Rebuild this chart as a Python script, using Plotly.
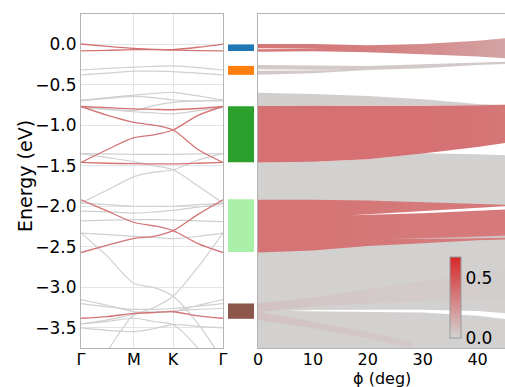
import plotly.graph_objects as go
from plotly.colors import sample_colorscale

# ---------------- left panel: band structure ----------------
K_TICKS = [0.0, 0.373, 0.648, 1.0]
K_LABELS = ["Γ", "M", "K", "Γ"]
K_PTS = [0.0, 0.187, 0.373, 0.511, 0.648, 0.824, 1.0]

RED_BANDS = [
    [0.0, -0.03, -0.055, -0.065, -0.068, -0.04, 0.0],
    [-0.085, -0.078, -0.068, -0.07, -0.075, -0.082, -0.085],
    [-0.77, -0.785, -0.80, -0.805, -0.81, -0.795, -0.77],
    [-0.77, -0.88, -0.965, -1.0, -1.06, -1.30, -1.46],
    [-1.46, -1.30, -1.155, -1.12, -1.06, -0.88, -0.77],
    [-1.46, -1.47, -1.475, -1.478, -1.478, -1.47, -1.46],
    [-1.92, -2.06, -2.20, -2.24, -2.30, -2.46, -2.57],
    [-2.57, -2.48, -2.395, -2.37, -2.30, -2.10, -1.92],
    [-3.38, -3.36, -3.32, -3.31, -3.30, -3.35, -3.38],
]

GRAY_BANDS = [
    [-0.32, -0.30, -0.285, -0.275, -0.27, -0.29, -0.32],
    [-0.38, -0.36, -0.335, -0.335, -0.34, -0.36, -0.38],
    [-0.69, -0.66, -0.63, -0.61, -0.595, -0.64, -0.69],
    [-0.70, -0.67, -0.645, -0.66, -0.69, -0.70, -0.70],
    [-0.78, -0.80, -0.82, -0.76, -0.72, -0.70, -0.69],
    [-0.78, -0.81, -0.835, -0.85, -0.86, -0.82, -0.78],
    [-1.35, -1.355, -1.36, -1.36, -1.36, -1.355, -1.35],
    [-1.35, -1.40, -1.45, -1.50, -1.55, -1.75, -1.96],
    [-1.96, -1.80, -1.635, -1.58, -1.55, -1.43, -1.35],
    [-1.96, -1.98, -2.0, -2.0, -2.0, -1.98, -1.96],
    [-2.06, -2.07, -2.085, -2.07, -2.05, -2.01, -1.97],
    [-2.18, -2.17, -2.165, -2.165, -2.17, -2.18, -2.19],
    [-2.33, -2.35, -2.37, -2.385, -2.40, -2.37, -2.33],
    [-2.33, -2.62, -2.95, -3.00, -3.11, -3.45, -3.90],
    [-3.45, -3.40, -3.33, -3.25, -3.11, -2.75, -2.33],
    [-3.15, -3.22, -3.30, -3.30, -3.30, -3.22, -3.15],
    [-3.20, -3.24, -3.27, -3.27, -3.26, -3.23, -3.20],
    [-3.50, -3.53, -3.545, -3.51, -3.46, -3.48, -3.50],
    [-4.20, -3.78, -3.34, -3.31, -3.29, -3.27, -3.26],
    [-3.45, -3.42, -3.38, -3.42, -3.46, -3.75, -4.20],
]

Y_TICKS = [0.0, -0.5, -1.0, -1.5, -2.0, -2.5, -3.0, -3.5]
Y_LABELS = ["0.0", "−0.5", "−1.0", "−1.5", "−2.0", "−2.5", "−3.0", "−3.5"]

# ---------------- middle panel: energy windows ----------------
WIN_TOP = [-0.005, -0.27, -0.767, -1.913, -3.198]
WIN_BOTTOM = [-0.086, -0.38, -1.457, -2.565, -3.387]
WIN_COLORS = ["#1f77b4", "#ff7f0e", "#2ca02c", "#aaf0a8", "#8c564b"]

# ---------------- right panel: twist-angle spectrum ----------------
PHI = [0, 10, 20, 30, 40, 45]
PHI_TICKS = [0, 10, 20, 30, 40]

A_UP = [0.0, 0.0, -0.015, 0.0, 0.04, 0.07]
A_LO = [-0.095, -0.09, -0.10, -0.125, -0.155, -0.175]
A_W = [0.36, 0.35, 0.33, 0.28, 0.22, 0.18]

B_UP = [-0.26, -0.265, -0.27, -0.25, -0.23, -0.22]
B_LO = [-0.38, -0.36, -0.32, -0.30, -0.26, -0.245]
B_W = [0.04, 0.04, 0.04, 0.04, 0.04, 0.04]

C_UP = [-0.60, -0.615, -0.64, -0.68, -0.74, -0.755]
C_LO = [-0.765, -0.765, -0.765, -0.76, -0.755, -0.75]
C_W = [0.02, 0.02, 0.02, 0.02, 0.02, 0.02]

E_UP = [-1.46, -1.45, -1.42, -1.345, -1.36, -1.37]
E_LO = [-3.80, -3.80, -3.80, -3.80, -3.80, -3.80]
E_W = [0.01, 0.01, 0.01, 0.01, 0.01, 0.01]

D_UP = [-0.765, -0.765, -0.765, -0.76, -0.755, -0.75]
D_LO = [-1.46, -1.45, -1.42, -1.35, -1.27, -1.22]
D_W = [0.38, 0.38, 0.38, 0.38, 0.37, 0.36]

F_UP = [-1.92, -1.92, -1.93, -1.95, -1.97, -1.98]
F_LO = [-2.57, -2.545, -2.49, -2.455, -2.42, -2.41]
F_W = [0.37, 0.37, 0.36, 0.35, 0.35, 0.35]

P1_PHI = [0, 10, 20, 30, 45]
P1_UP = [-3.20, -3.12, -3.02, -2.92, -2.78]
P1_LO = [-3.30, -3.24, -3.20, -3.17, -3.14]
P1_W = [0.07, 0.05, 0.04, 0.03, 0.02]

P2_PHI = [0, 10, 20, 28]
P2_UP = [-3.30, -3.42, -3.55, -3.66]
P2_LO = [-3.40, -3.50, -3.63, -3.75]
P2_W = [0.07, 0.06, 0.05, 0.04]

# gaps (white) and thin streaks inside bands
WA_PHI = [0, 6, 12]
WA_UP = [-0.052, -0.054, -0.058]
WA_LO = [-0.064, -0.062, -0.058]

WB_PHI = [0, 8, 16]
WB_UP = [-0.312, -0.315, -0.32]
WB_LO = [-0.33, -0.327, -0.32]

W2_PHI = [17, 30, 40, 45]
W2_UP = [-2.11, -2.06, -2.02, -2.0]
W2_LO = [-2.11, -2.085, -2.055, -2.04]

G2_PHI = [24, 35, 45]
G2_UP = [-2.40, -2.385, -2.36]
G2_LO = [-2.40, -2.40, -2.39]
G2_W = [0.08, 0.08, 0.08]

W3_PHI = [5, 10, 20, 30, 40, 45]
W3_UP = [-3.29, -3.28, -3.275, -3.275, -3.29, -3.32]
W3_LO = [-3.29, -3.30, -3.305, -3.31, -3.35, -3.39]

W_MAX = 0.67
CB_TICKS = [0.0, 0.5]
CSCALE = [[0.0, "#d3d3d3"], [1.0, "#d62728"]]

E_RANGE = [-3.747, 0.37]
PHI_RANGE = [0, 45]


def wcolor(w):
    return sample_colorscale(CSCALE, [min(max(w / W_MAX, 0), 1)])[0]


fig = go.Figure()

# left panel lines
for band in GRAY_BANDS:
    fig.add_trace(go.Scatter(x=K_PTS, y=band, mode="lines",
                             line=dict(color="#d0d0d0", width=1.2, shape="spline", smoothing=0.8),
                             xaxis="x", yaxis="y", hoverinfo="skip"))
for band in RED_BANDS:
    fig.add_trace(go.Scatter(x=K_PTS, y=band, mode="lines",
                             line=dict(color="#d37474", width=1.3, shape="spline", smoothing=0.8),
                             xaxis="x", yaxis="y", hoverinfo="skip"))

# middle panel windows
for top, bot, col in zip(WIN_TOP, WIN_BOTTOM, WIN_COLORS):
    fig.add_trace(go.Bar(x=[0.5], y=[top - bot], base=[bot], width=[1.0],
                         marker=dict(color=col, line=dict(width=0)),
                         xaxis="x2", yaxis="y2", hoverinfo="skip"))


def band_poly(phi, up, lo, weights=None, color=None):
    xs = list(phi) + list(phi)[::-1] + [phi[0]]
    ys = list(up) + list(lo)[::-1] + [up[0]]
    kw = dict(x=xs, y=ys, mode="lines", fill="toself", xaxis="x3", yaxis="y3",
              hoverinfo="skip")
    if weights is not None:
        p0, p1 = phi[0], phi[-1]
        cs = [[(p - p0) / (p1 - p0), wcolor(w)] for p, w in zip(phi, weights)]
        kw["fillgradient"] = dict(type="horizontal", colorscale=cs, start=p0, stop=p1)
        kw["line"] = dict(width=0, color=wcolor(weights[0]))
        kw["fillcolor"] = wcolor(weights[0])
    else:
        kw["fillcolor"] = color
        kw["line"] = dict(width=0, color=color)
    fig.add_trace(go.Scatter(**kw))


band_poly(PHI, E_UP, E_LO, E_W)
band_poly(PHI, C_UP, C_LO, C_W)
band_poly(PHI, B_UP, B_LO, B_W)
band_poly(PHI, A_UP, A_LO, A_W)
band_poly(PHI, D_UP, D_LO, D_W)
band_poly(PHI, F_UP, F_LO, F_W)
band_poly(P1_PHI, P1_UP, P1_LO, P1_W)
band_poly(P2_PHI, P2_UP, P2_LO, P2_W)
band_poly(G2_PHI, G2_UP, G2_LO, G2_W)
band_poly(WA_PHI, WA_UP, WA_LO, color="white")
band_poly(WB_PHI, WB_UP, WB_LO, color="white")
band_poly(W2_PHI, W2_UP, W2_LO, color="white")
band_poly(W3_PHI, W3_UP, W3_LO, color="white")

# colorbar
fig.add_trace(go.Scatter(
    x=[-100], y=[-100], mode="markers", xaxis="x3", yaxis="y3", hoverinfo="skip",
    marker=dict(color=[0], colorscale=CSCALE, cmin=0, cmax=W_MAX, showscale=True, size=1,
                colorbar=dict(x=450 / 505, xanchor="left", xpad=0,
                              y=(387 - 338) / 387, yanchor="bottom", ypad=0,
                              lenmode="pixels", len=81, thicknessmode="pixels", thickness=11,
                              outlinecolor="#9a9a9a", outlinewidth=1,
                              tickvals=CB_TICKS, ticktext=["0.0", "0.5"], ticks="",
                              tickfont=dict(size=17, color="black"))),
))

axis_line = "#b4b4b4"
grid = "#e4e4e4"
fig.update_layout(
    width=505, height=387, margin=dict(l=0, r=0, t=0, b=0, autoexpand=False),
    paper_bgcolor="white", plot_bgcolor="white", showlegend=False, barmode="overlay",
    font=dict(family="DejaVu Sans", size=17, color="black"),
    xaxis=dict(domain=[81 / 505, 223 / 505], range=[0, 1], tickvals=K_TICKS, ticktext=K_LABELS,
               anchor="y", showgrid=True, gridcolor=grid, gridwidth=1, showline=True,
               linecolor=axis_line, linewidth=1, mirror=True, zeroline=False, ticks="",
               tickfont=dict(size=16), ticklabelstandoff=-3),
    yaxis=dict(domain=[39 / 387, 373 / 387], range=E_RANGE, tickvals=Y_TICKS, ticktext=Y_LABELS,
               anchor="x", showgrid=True, gridcolor=grid, gridwidth=1, showline=True,
               linecolor=axis_line, linewidth=1, mirror=True, zeroline=False, ticks="",
               tickfont=dict(size=17)),
    xaxis2=dict(domain=[228 / 505, 254 / 505], range=[0, 1], visible=False, anchor="y2"),
    yaxis2=dict(domain=[39 / 387, 373 / 387], range=E_RANGE, visible=False, anchor="x2"),
    xaxis3=dict(domain=[258 / 505, 1.0], range=PHI_RANGE, tickvals=PHI_TICKS, anchor="y3",
                showgrid=False, showline=True, linecolor=axis_line, linewidth=1, mirror=True,
                zeroline=False, ticks="", tickfont=dict(size=16), ticklabelstandoff=-3),
    yaxis3=dict(domain=[39 / 387, 373 / 387], range=E_RANGE, anchor="x3", showgrid=False,
                showline=True, linecolor=axis_line, linewidth=1, zeroline=False,
                showticklabels=False, ticks=""),
    annotations=[
        dict(text="Energy (eV)", x=25 / 505, y=(387 - 176) / 387, xref="paper", yref="paper",
             xanchor="center", yanchor="middle", textangle=-90, showarrow=False,
             font=dict(size=19)),
        dict(text="ϕ (deg)", x=382 / 505, y=(387 - 378) / 387, xref="paper", yref="paper",
             xanchor="center", yanchor="middle", showarrow=False, font=dict(size=16)),
    ],
)

fig.write_html("out.html")
